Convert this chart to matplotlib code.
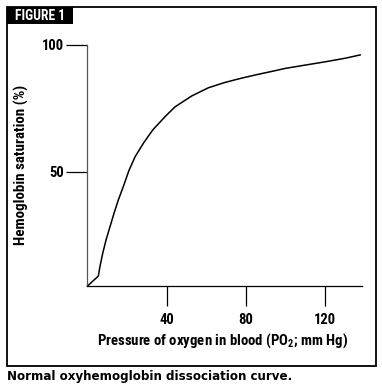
import matplotlib
matplotlib.use("Agg")
import matplotlib.pyplot as plt
from matplotlib import font_manager
from matplotlib.patches import Rectangle

# data
po2 = [0, 5.5, 6.3, 7.7, 9.4, 11.4, 13.4, 15.6, 18.1, 21.0, 24.1, 28.3, 33.0,
       39.2, 44.3, 52.8, 61.2, 69.6, 78.1, 86.5, 94.9, 100.0, 110.1, 120.3,
       130.4, 138.0]
saturation = [5.1, 9.0, 12.7, 17.9, 23.2, 28.4, 33.6, 38.9, 44.1, 50.5, 55.9,
              61.2, 66.4, 71.6, 75.5, 79.8, 83.0, 85.1, 86.8, 88.3, 89.7, 90.6,
              91.9, 93.2, 94.6, 95.9]
xticks = [40, 80, 120]
yticks = [50, 100]


def pick_font(names):
    for n in names:
        try:
            font_manager.findfont(n, fallback_to_default=False)
            return n
        except Exception:
            pass
    return "DejaVu Sans"


narrow = pick_font(["Liberation Sans Narrow", "Roboto Condensed", "Liberation Sans"])
heavy = "DejaVu Sans"

plt.rcParams["font.family"] = [narrow, "DejaVu Sans"]
plt.rcParams["font.weight"] = "bold"
plt.rcParams["mathtext.fontset"] = "custom"
plt.rcParams["mathtext.bf"] = narrow + ":bold"
plt.rcParams["mathtext.rm"] = narrow + ":bold"

fig = plt.figure(figsize=(3.82, 3.89), dpi=100)
ax = fig.add_axes([0.229, 0.2648, 0.718, 0.6208])

ax.plot(po2, saturation, color="black", lw=1.1, clip_on=False,
        solid_joinstyle="round")

ax.set_xlim(0, 138.8)
ax.set_ylim(5.1, 100)
ax.set_xticks(xticks)
ax.set_yticks(yticks)
ax.set_xticklabels([str(t) for t in xticks], fontsize=10.5, fontweight="bold")
ax.set_yticklabels([str(t) for t in yticks], fontsize=10.5, fontweight="bold")
ax.tick_params(axis="x", length=14.4, width=0.9, pad=5, color="black")
ax.tick_params(axis="y", length=15, width=0.9, pad=2, color="black")
for s in ["top", "right"]:
    ax.spines[s].set_visible(False)
ax.spines["left"].set_color("#555555")
ax.spines["left"].set_linewidth(0.9)
ax.spines["bottom"].set_linewidth(0.9)

# labels
fig.text(0.584, 0.1234, "Pressure of oxygen in blood (PO$_{\\mathbf{2}}$; mm Hg)",
         ha="center", va="center", fontsize=10.6, fontweight="bold")
fig.text(0.055, 0.576, "Hemoglobin saturation (%)", rotation=90,
         ha="center", va="center", fontsize=10.8, fontweight="bold")

# outer frame and figure tag
fig.patches.append(Rectangle((0.0183, 0.0591), 0.965, 0.9229, transform=fig.transFigure,
                             fill=False, ec="black", lw=1.3))
fig.patches.append(Rectangle((0.0183, 0.9383), 0.1728, 0.0437, transform=fig.transFigure,
                             fc="black", ec="black", lw=0))
fig.text(0.105, 0.960, "FIGURE 1", color="white", ha="center", va="center",
         fontsize=9.8, fontweight="bold")

fig.text(0.018, 0.0334, "Normal oxyhemoglobin dissociation curve.", ha="left",
         va="center", fontsize=8.6, fontweight="bold", family=heavy)

fig.savefig("out.png", dpi=100)
